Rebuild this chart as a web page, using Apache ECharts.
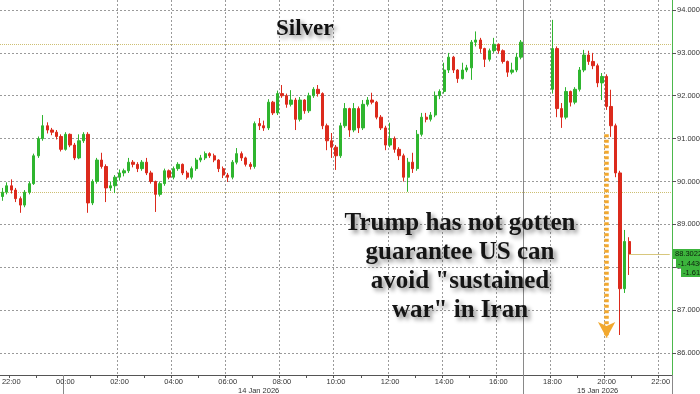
<!DOCTYPE html>
<html><head><meta charset="utf-8">
<script src="https://cdn.jsdelivr.net/npm/echarts@6/dist/echarts.min.js"></script>
<style>html,body{margin:0;padding:0;background:#fff}#c{width:700px;height:394px}</style>
</head><body><div id="c"></div>
<script>
// ---- data (10-minute candles) ----
const session1Start = '0|21:40';
const s1Open = [89.65,89.75,89.90,89.80,89.60,89.45,89.75,89.95,90.60,91.00,
91.30,91.20,91.15,91.05,90.75,91.10,90.85,90.55,90.95,91.10,
89.50,90.00,90.50,90.35,89.85,89.90,90.10,90.20,90.25,90.45,
90.40,90.30,90.45,90.20,90.00,89.70,89.95,90.25,90.10,90.30,
90.40,90.20,90.10,90.30,90.50,90.55,90.65,90.60,90.50,90.30,
90.15,90.10,90.45,90.65,90.55,90.40,90.35,91.35,91.30,91.25,
91.85,91.60,92.05,92.00,91.80,91.90,91.45,91.90,91.65,92.00,
92.15,92.05,91.30,90.95,90.80,90.60,91.30,91.70,91.20,91.70,
91.25,91.80,91.90,91.85,91.50,91.25,90.85,91.00,90.75,90.60,
90.10,90.45,90.30,91.10,91.50,91.45,91.55,92.00,92.10,92.60,
92.90,92.60,92.40,92.60,92.65,93.25,93.30,93.10,92.85,93.05,
93.20,93.05,92.80,92.55,92.60,92.90];
const s1Close = [89.75,89.90,89.80,89.60,89.45,89.75,89.95,90.60,91.00,91.30,
91.20,91.15,91.05,90.75,91.10,90.85,90.55,90.95,91.10,89.50,
90.00,90.50,90.35,89.85,89.90,90.10,90.20,90.25,90.45,90.40,
90.30,90.45,90.20,90.00,89.70,89.95,90.25,90.10,90.30,90.40,
90.20,90.10,90.30,90.50,90.55,90.65,90.60,90.50,90.30,90.15,
90.10,90.45,90.65,90.55,90.40,90.35,91.35,91.30,91.25,91.85,
91.60,92.05,92.00,91.80,91.90,91.45,91.90,91.65,92.00,92.15,
92.05,91.30,90.95,90.80,90.60,91.30,91.70,91.20,91.70,91.25,
91.80,91.90,91.85,91.50,91.25,90.85,91.00,90.75,90.60,90.10,
90.45,90.30,91.10,91.50,91.45,91.55,92.00,92.10,92.60,92.90,
92.60,92.40,92.60,92.65,93.25,93.30,93.10,92.85,93.05,93.20,
93.05,92.80,92.55,92.60,92.90,93.25];
const s1Low = [89.55,89.70,89.72,89.52,89.27,89.40,89.70,89.92,90.55,90.95,
91.12,91.08,90.98,90.70,90.72,90.80,90.50,90.52,90.90,89.27,
89.45,89.95,90.30,89.52,89.78,89.73,90.02,90.12,90.20,90.33,
90.22,90.25,90.15,89.95,89.29,89.65,89.90,90.05,90.05,90.25,
90.15,90.05,90.05,90.25,90.45,90.50,90.55,90.45,90.22,90.08,
89.99,90.05,90.40,90.48,90.35,90.28,90.30,91.20,91.18,91.20,
91.55,91.55,91.95,91.72,91.75,91.20,91.40,91.58,91.60,91.95,
91.98,91.22,90.73,90.55,90.27,90.55,91.25,91.04,91.15,91.13,
91.20,91.75,91.80,91.45,91.20,90.73,90.80,90.67,90.50,90.00,
89.76,90.20,90.25,91.05,91.38,91.40,91.50,91.92,92.05,92.53,
92.53,92.30,92.38,92.55,92.37,93.15,93.00,92.67,92.80,93.00,
92.98,92.75,92.44,92.50,92.55,92.85];
const s1High = [89.85,89.98,90.05,89.85,89.65,89.80,90.00,90.65,91.05,91.55,
91.38,91.25,91.20,91.10,91.15,91.12,90.90,91.10,91.15,91.15,
90.05,90.55,90.67,90.40,90.00,90.15,90.28,90.30,90.55,90.50,
90.45,90.50,90.55,90.25,90.02,90.00,90.30,90.28,90.35,90.45,
90.42,90.25,90.35,90.55,90.62,90.70,90.68,90.65,90.52,90.35,
90.20,90.50,90.78,90.70,90.58,90.45,91.40,91.48,91.42,91.92,
91.88,92.12,92.25,92.05,92.13,91.95,91.97,91.92,92.07,92.20,
92.25,92.08,91.35,91.13,90.85,91.37,91.83,91.72,91.83,91.75,
91.90,91.97,92.07,91.88,91.55,91.30,91.37,91.05,90.80,90.65,
90.55,90.67,91.20,91.60,91.60,91.62,92.10,92.15,92.77,93.00,
92.93,92.62,92.77,92.72,93.30,93.50,93.35,93.12,93.10,93.35,
93.22,93.08,92.82,92.77,93.00,93.30];

const session2Start = '1|18:00';
const s2Open  = [92.15,93.10,91.70,91.50,92.10,91.85,92.15,92.60,92.95,92.80,92.70,92.30,92.45,91.75,91.30,90.20,87.50,88.60];
const s2Close = [93.10,91.70,91.50,92.10,91.85,92.15,92.60,92.95,92.80,92.70,92.30,92.45,91.75,91.30,90.20,87.50,88.60,88.30];
const s2Low   = [92.05,91.50,91.25,91.45,91.75,91.80,92.10,92.55,92.72,92.62,92.20,91.90,91.67,91.04,90.10,86.42,87.40,87.82];
const s2High  = [93.77,93.15,91.83,92.20,92.12,92.20,92.67,93.07,93.05,93.00,92.75,92.53,92.50,92.14,91.35,90.25,88.87,88.70];

const yTickValues = [86,87,88,89,90,91,92,93,94];
const refHigh = 93.21;
const prevClose = 89.745;
const lastPrice = 88.3022;
const lastChange = '-1.4430';
const lastPct = '-1.61%';
const dayBreaks = ['1|00:00','1|17:00'];
const arrowAt = '1|20:00';
const arrowFrom = 91.1, arrowTo = 86.35;
const dateLabels = ['14 Jan 2026','15 Jan 2026'];

// ---- categories: 10-minute slots ----
const START = 21*60+40, STEP = 10, N = 149;
const cats = [];
for (let i = 0; i < N; i++) {
  const m = START + i*STEP, d = Math.floor(m/1440), mm = m % 1440;
  cats.push(d + '|' + String(Math.floor(mm/60)).padStart(2,'0') + ':' + String(mm%60).padStart(2,'0'));
}
const candle = cats.map(() => '-');
const i1 = cats.indexOf(session1Start), i2 = cats.indexOf(session2Start);
s1Open.forEach((o,k) => { candle[i1+k] = [o, s1Close[k], s1Low[k], s1High[k]]; });
s2Open.forEach((o,k) => { candle[i2+k] = [o, s2Close[k], s2Low[k], s2High[k]]; });
const lastIdx = i2 + s2Open.length - 1;
const tOf = v => v.split('|')[1];
const isHour = v => tOf(v).endsWith(':00');
const isEvenHour = v => isHour(v) && parseInt(tOf(v), 10) % 2 === 0;

const FONT = 'Liberation Sans';
const GRID_C = '#9a9a9a';
const GRID_DASH = [2,2];
const chart = echarts.init(document.getElementById('c'), null, {renderer:'canvas'});
const shadow = {textShadowColor:'rgba(0,0,0,0.45)', textShadowBlur:4, textShadowOffsetX:3, textShadowOffsetY:3};
const annot = ['Trump has not gotten','guarantee US can','avoid "sustained','war" in Iran'];
const annotY = [224, 253, 282, 311];

chart.setOption({
  animation:false,
  backgroundColor:'#fff',
  grid:{left:0, right:28, top:0, bottom:19, containLabel:false, outerBoundsMode:'none'},
  xAxis:[{
    type:'category', data:cats, boundaryGap:true, position:'bottom',
    axisLine:{show:true, lineStyle:{color:'#555', width:1}},
    axisTick:{show:true, interval:(i,v)=>isHour(v), length:3, lineStyle:{color:'#555'}},
    axisLabel:{show:true, interval:(i,v)=>isEvenHour(v), formatter:v=>tOf(v), color:'#333', fontSize:7.5, fontFamily:FONT, margin:3},
    splitLine:{show:true, interval:(i,v)=>isEvenHour(v) && dayBreaks.indexOf(v)<0, showMinLine:false, showMaxLine:false,
      lineStyle:{color:GRID_C, type:GRID_DASH, width:1}}
  },{
    type:'category', data:cats, boundaryGap:true, position:'bottom',
    axisLine:{show:false},
    axisTick:{show:true, interval:(i,v)=>dayBreaks.indexOf(v)>=0, length:19, lineStyle:{color:'#888'}},
    axisLabel:{show:false},
    splitLine:{show:true, interval:(i,v)=>dayBreaks.indexOf(v)>=0, showMinLine:false, showMaxLine:false,
      lineStyle:{color:'#8a8a8a', type:'solid', width:1}}
  }],
  yAxis:{
    type:'value', position:'right', min:85.487, max:94.233, scale:true,
    axisLine:{show:true, lineStyle:{color:'#4cb84c', width:1}},
    axisTick:{show:true, customValues:yTickValues, length:4, lineStyle:{color:'#555'}},
    axisLabel:{show:true, customValues:yTickValues, formatter:v=>Number(v).toFixed(4), color:'#333', fontSize:7.5, fontFamily:FONT, margin:5},
    splitLine:{show:false}
  },
  series:[{
    type:'line', data:[], silent:true, xAxisIndex:0, yAxisIndex:0, z:1,
    markLine:{silent:true, z:1, symbol:['none','none'], label:{show:false}, animation:false,
      data: yTickValues.map(v=>({yAxis:v, lineStyle:{color:GRID_C, type:GRID_DASH, width:1}})).concat([
        {yAxis:refHigh, lineStyle:{color:'#cdbf72', type:[1,1], width:1}},
        {yAxis:prevClose, lineStyle:{color:'#cdbf72', type:[1,1], width:1}}
      ])}
  },{
    type:'candlestick', data:candle, xAxisIndex:0, yAxisIndex:0, z:3, barWidth:2.8,
    itemStyle:{color:'#2fb52f', color0:'#dc2a1c', borderColor:'#2fb52f', borderColor0:'#dc2a1c', borderWidth:1},
    markLine:{silent:true, z:5, symbol:['none','none'], label:{show:false}, animation:false,
      data:[
        [{coord:[cats.indexOf(arrowAt), arrowFrom], lineStyle:{color:'#f2a82e', width:4.5, type:[3,2.5]}},
         {coord:[cats.indexOf(arrowAt), arrowTo], symbol:'arrow', symbolSize:[13,16]}],
        [{coord:[lastIdx, lastPrice], lineStyle:{color:'#d8c77d', width:1, type:'solid'}},
         {coord:[N-1, lastPrice]}]
      ]}
  }],
  graphic:[
    {type:'text', left:276, top:18, z:100, style:Object.assign({text:'Silver', fill:'#111', font:"bold 23px 'Liberation Serif'"}, shadow)},
    ...annot.map((t,k)=>({type:'text', z:100, x:460, y:annotY[k],
      style:Object.assign({text:t, fill:'#151515', font:"bold 25px 'Liberation Serif'", align:'center', verticalAlign:'middle'}, shadow)})),
    {type:'text', z:100, x:238, y:391, style:{text:dateLabels[0], fill:'#333', font:"7.5px 'Liberation Sans'", verticalAlign:'middle'}},
    {type:'text', z:100, x:577, y:391, style:{text:dateLabels[1], fill:'#333', font:"7.5px 'Liberation Sans'", verticalAlign:'middle'}},
    {type:'rect', z:100, shape:{x:673, y:249, width:27, height:10}, style:{fill:'#3cb43c'}},
    {type:'text', z:101, x:675, y:254, style:{text:lastPrice.toFixed(4), fill:'#0d200d', font:"7.5px 'Liberation Sans'", verticalAlign:'middle'}},
    {type:'rect', z:100, shape:{x:676, y:259, width:24, height:9}, style:{fill:'#3cb43c'}},
    {type:'text', z:101, x:678, y:263.5, style:{text:lastChange, fill:'#0d200d', font:"7.5px 'Liberation Sans'", verticalAlign:'middle'}},
    {type:'rect', z:100, shape:{x:681, y:268, width:19, height:9}, style:{fill:'#3cb43c'}},
    {type:'text', z:101, x:683, y:272.5, style:{text:lastPct, fill:'#0d200d', font:"7.5px 'Liberation Sans'", verticalAlign:'middle'}}
  ]
});
</script></body></html>
